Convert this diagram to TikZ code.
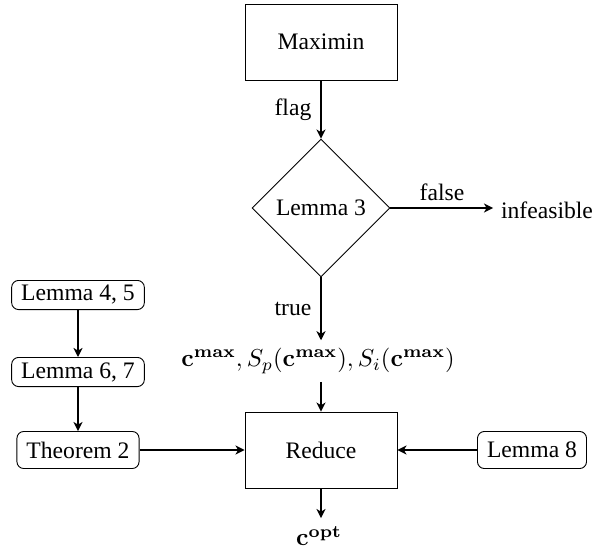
\RequirePackage{fix-cm}
\documentclass[tikz,border=0pt]{standalone}
\usepackage[no-math]{fontspec}
\setmainfont{Liberation Serif}
\usetikzlibrary{shapes.geometric,arrows.meta}
\tikzset{
  every node/.style={font=\fontsize{10.4pt}{12.5pt}\selectfont},
  bigbox/.style={draw, rectangle, minimum width=66.9pt, minimum height=33.4pt, inner sep=0pt, line width=0.4pt},
  decbox/.style={draw, diamond, minimum width=60.7pt, minimum height=60.7pt, inner sep=0pt, line width=0.4pt},
  lemsmall/.style={draw, rectangle, rounded corners=3pt, inner xsep=4.2pt, inner ysep=0pt, minimum height=12.8pt, line width=0.4pt},
  lembig/.style={draw, rectangle, rounded corners=3pt, inner xsep=4.2pt, inner ysep=0pt, minimum height=16.3pt, line width=0.4pt},
  mathlbl/.style={font=\fontsize{10.8pt}{13pt}\selectfont},
  flow/.style={-{Stealth[length=4pt,width=4pt,inset=1.2pt]}, line width=0.85pt},
  lbl/.style={inner sep=0pt}
}
\begin{document}
\begin{tikzpicture}[x=0.44pt, y=-0.44pt]
\useasboundingbox (0,0) rectangle (610,555);
\node[bigbox] (max) at (321,42) {Maximin};
\node[decbox] (dia) at (321,208) {Lemma 3};
\node (inf) at (547,210) {infeasible};
\node[mathlbl] (cmax) at (318,361) {$\mathbf{c}^{\mathbf{max}}, S_p(\mathbf{c}^{\mathbf{max}}), S_i(\mathbf{c}^{\mathbf{max}})$};
\node[bigbox] (red) at (321,450) {Reduce};
\node[mathlbl] (copt) at (319,536) {$\mathbf{c}^{\mathbf{opt}}$};
\node[lembig] (l8) at (532,450) {Lemma 8};
\node[lembig] (t2) at (78,450) {Theorem 2};
\node[lemsmall] (l45) at (78,295) {Lemma 4, 5};
\node[lemsmall] (l67) at (78,372) {Lemma 6, 7};
\node[lbl] (flag) at (293,110) {flag};
\node[lbl] (true) at (293,309) {true};
\node[lbl] (false) at (442,192) {false};
\draw[flow] (max) -- (dia);
\draw[flow] (dia.east) -- (dia.east -| inf.west);
\draw[flow] (dia.south) -- (dia.south |- cmax.north);
\draw[flow] (red.north |- cmax.south) -- (red.north);
\draw[flow] (red.south) -- (red.south |- copt.north);
\draw[flow] (l8.west) -- (red.east);
\draw[flow] (t2.east) -- (red.west);
\draw[flow] (l45) -- (l67);
\draw[flow] (l67) -- (t2);
\end{tikzpicture}
\end{document}
